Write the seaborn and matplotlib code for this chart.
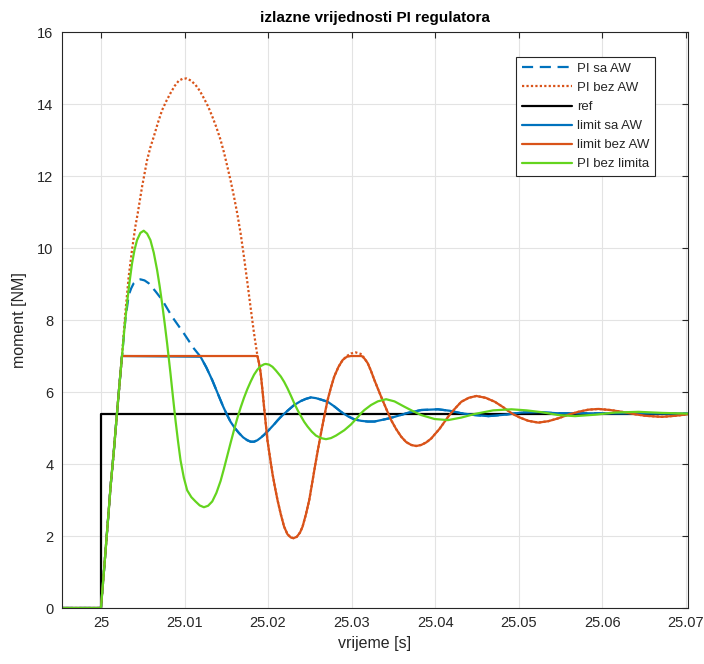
import numpy as np
import pandas as pd
import matplotlib
matplotlib.use("Agg")
import matplotlib.pyplot as plt
import seaborn as sns

# values (time [s], moment [NM])
ref_t = [24.9953, 25.0, 25.0, 25.0702]
ref_v = [0.0, 0.0, 5.4, 5.4]

# common start: all controller outputs rise together up to the limit of 7
rise_t = [24.9953, 25.0, 25.00042, 25.00084, 25.00118, 25.00152, 25.00192, 25.00222, 25.00252]
rise_v = [0.0, 0.0, 1.2, 2.44, 3.45, 4.30, 5.41, 6.22, 7.0]

# PI bez limita (green)
pbl_t = rise_t + [25.00282, 25.00312, 25.00342, 25.00372, 25.00402, 25.00432, 25.00472, 25.00512,
                  25.00552, 25.00592, 25.00632, 25.00672, 25.00702, 25.00732, 25.00762, 25.00792,
                  25.00832, 25.00862, 25.00892, 25.00922, 25.00952, 25.00992, 25.01032, 25.01082,
                  25.01132, 25.01182, 25.01232, 25.01282, 25.01332, 25.01382, 25.01432, 25.01472,
                  25.01512, 25.01552, 25.01592, 25.01632, 25.01672, 25.01712, 25.01752, 25.01792,
                  25.01832, 25.01872, 25.01912, 25.01952, 25.01973, 25.02013, 25.02053, 25.02093,
                  25.02153, 25.02193, 25.02233, 25.02273, 25.02313, 25.02353, 25.02393, 25.02433,
                  25.02473, 25.02523, 25.02573, 25.02633, 25.02693, 25.02753, 25.02813, 25.02873,
                  25.02913, 25.02993, 25.03073, 25.03113, 25.03153, 25.03233, 25.03313, 25.03413,
                  25.03513, 25.03633, 25.03733, 25.03833, 25.03993, 25.04154, 25.04313, 25.04473,
                  25.04693, 25.04913, 25.05094, 25.05274, 25.05474, 25.05674, 25.05914, 25.06154,
                  25.06434, 25.06714, 25.0702]
pbl_v = rise_v + [7.78, 8.46, 9.05, 9.57, 9.95, 10.22, 10.42, 10.48,
                  10.40, 10.22, 9.87, 9.39, 8.95, 8.46, 7.92, 7.35,
                  6.52, 5.86, 5.22, 4.64, 4.11, 3.62, 3.27, 3.08,
                  2.96, 2.85, 2.80, 2.84, 2.96, 3.20, 3.53, 3.87,
                  4.23, 4.59, 4.94, 5.27, 5.57, 5.84, 6.08, 6.29,
                  6.48, 6.62, 6.72, 6.77, 6.78, 6.76, 6.70, 6.60,
                  6.43, 6.28, 6.10, 5.90, 5.69, 5.50, 5.33, 5.17,
                  5.04, 4.90, 4.79, 4.72, 4.69, 4.72, 4.79, 4.88,
                  4.94, 5.10, 5.30, 5.41, 5.50, 5.64, 5.74, 5.80,
                  5.74, 5.59, 5.47, 5.36, 5.25, 5.22, 5.29, 5.39,
                  5.49, 5.52, 5.49, 5.44, 5.36, 5.33, 5.37, 5.43,
                  5.45, 5.42, 5.40]

# limit sa AW (blue solid), descent after leaving the limit
lsa_tail_t = [25.01192, 25.01262, 25.01332, 25.01412, 25.01462, 25.01502, 25.01552, 25.01602,
              25.01652, 25.01702, 25.01752, 25.01792, 25.01832, 25.01872, 25.01912, 25.01952,
              25.02012, 25.02072, 25.02113, 25.02153, 25.02233, 25.02313, 25.02393, 25.02453,
              25.02513, 25.02573, 25.02633, 25.02713, 25.02793, 25.02873, 25.02953, 25.03033,
              25.03113, 25.03193, 25.03273, 25.03353, 25.03433, 25.03513, 25.03673, 25.03833,
              25.04034, 25.04173, 25.04313, 25.04473, 25.04634, 25.04834, 25.05034, 25.05234,
              25.05474, 25.0702]
lsa_tail_v = [6.98, 6.68, 6.33, 5.88, 5.60, 5.40, 5.17, 5.0,
              4.86, 4.74, 4.66, 4.62, 4.62, 4.66, 4.73, 4.81,
              4.95, 5.10, 5.21, 5.31, 5.48, 5.64, 5.75, 5.81,
              5.85, 5.83, 5.79, 5.73, 5.60, 5.45, 5.33, 5.24,
              5.20, 5.18, 5.18, 5.22, 5.26, 5.31, 5.42, 5.50,
              5.52, 5.48, 5.41, 5.36, 5.33, 5.37, 5.43, 5.44,
              5.41, 5.40]
lsa_t = rise_t + lsa_tail_t
lsa_v = rise_v + lsa_tail_v

# PI sa AW (blue dashed)
psa_t = rise_t + [25.00292, 25.00332, 25.00362, 25.00392, 25.00432, 25.00472, 25.00522, 25.00572,
                  25.00652, 25.00732, 25.00852, 25.00922, 25.00992, 25.01052, 25.01112] + lsa_tail_t
psa_v = rise_v + [8.0, 8.69, 8.88, 9.02, 9.10, 9.13, 9.10, 9.02,
                  8.80, 8.56, 8.09, 7.86, 7.63, 7.42, 7.21] + lsa_tail_v

# limit bez AW (orange solid), after the first saturation
lba_tail_t = [25.01892, 25.01912, 25.01932, 25.01952, 25.01972, 25.01992, 25.02022, 25.02052,
              25.02083, 25.02113, 25.02153, 25.02192, 25.02232, 25.02272, 25.02305, 25.02345,
              25.02383, 25.02413, 25.02453, 25.02493, 25.02527, 25.02561, 25.02597, 25.02633,
              25.02673, 25.02713, 25.02753, 25.02792, 25.02843, 25.02893, 25.02943, 25.02993,
              25.03121, 25.03157, 25.03193, 25.03233, 25.03273, 25.03313, 25.03353, 25.03413,
              25.03473, 25.03533, 25.03593, 25.03653, 25.03713, 25.03773, 25.03833, 25.03893,
              25.03953, 25.04053, 25.04154, 25.04233, 25.04313, 25.04403, 25.04493, 25.04603,
              25.04713, 25.04813, 25.04913, 25.05014, 25.05114, 25.05234, 25.05354, 25.05474,
              25.05594, 25.05714, 25.05834, 25.05954, 25.06094, 25.06234, 25.06374, 25.06514,
              25.06714, 25.06874, 25.0702]
lba_tail_v = [6.80, 6.52, 6.07, 5.59, 5.13, 4.67, 4.20, 3.74,
              3.35, 3.0, 2.60, 2.26, 2.05, 1.96, 1.94, 1.98,
              2.10, 2.26, 2.60, 3.0, 3.46, 3.93, 4.40, 4.85,
              5.33, 5.78, 6.13, 6.43, 6.70, 6.89, 6.98, 7.0,
              7.0, 6.92, 6.80, 6.58, 6.33, 6.10, 5.87, 5.54,
              5.22, 4.97, 4.76, 4.61, 4.53, 4.50, 4.53, 4.60,
              4.71, 4.98, 5.31, 5.53, 5.73, 5.84, 5.89, 5.84,
              5.73, 5.58, 5.41, 5.29, 5.20, 5.15, 5.19, 5.27,
              5.37, 5.45, 5.51, 5.53, 5.50, 5.45, 5.39, 5.34,
              5.31, 5.34, 5.38]
lba_t = rise_t + [25.01873] + lba_tail_t
lba_v = rise_v + [7.0] + lba_tail_v

# PI bez AW (orange dotted)
pba_t = rise_t + [25.00292, 25.00332, 25.00372, 25.00412, 25.0044, 25.00492, 25.00552, 25.00592,
                  25.00632, 25.00682, 25.00732, 25.00782, 25.00832, 25.00882, 25.00932, 25.00978,
                  25.01024, 25.01078, 25.01132, 25.01182, 25.01232, 25.01283, 25.01333, 25.01382,
                  25.01432, 25.01473, 25.01513, 25.01552, 25.01592, 25.01632, 25.01672, 25.01712,
                  25.01752, 25.01792, 25.01832, 25.01873] \
    + lba_tail_t[:30] + [25.02943, 25.02993, 25.0305, 25.03121] + lba_tail_t[33:]
pba_v = rise_v + [8.2, 9.2, 9.95, 10.6, 10.96, 11.70, 12.44, 12.80,
                  13.09, 13.48, 13.83, 14.08, 14.30, 14.50, 14.65, 14.70,
                  14.71, 14.65, 14.53, 14.37, 14.16, 13.93, 13.65, 13.35,
                  13.0, 12.65, 12.26, 11.87, 11.43, 10.95, 10.40, 9.75,
                  9.05, 8.33, 7.63, 7.0] \
    + lba_tail_v[:30] + [7.0, 7.07, 7.1, 7.05] + lba_tail_v[33:]

x_ticks = [25.0, 25.01, 25.02, 25.03, 25.04, 25.05, 25.06, 25.07]
x_tick_labels = ["25", "25.01", "25.02", "25.03", "25.04", "25.05", "25.06", "25.07"]
y_ticks = [0, 2, 4, 6, 8, 10, 12, 14, 16]

sns.set_style("white")
plt.rcParams["font.family"] = ["Liberation Sans", "DejaVu Sans"]

blue = "#0072BD"
orange = "#D95319"
green = "#64D41E"

fig = plt.figure(figsize=(7.04, 6.64), dpi=100)
ax = fig.add_axes([0.0876, 0.0843, 0.889, 0.8675])

series = [
    ("PI sa AW", psa_t, psa_v, blue, (0, (5, 3))),
    ("PI bez AW", pba_t, pba_v, orange, (0, (1, 1))),
    ("ref", ref_t, ref_v, "black", "-"),
    ("limit sa AW", lsa_t, lsa_v, blue, "-"),
    ("limit bez AW", lba_t, lba_v, orange, "-"),
    ("PI bez limita", pbl_t, pbl_v, green, "-"),
]
for name, t, v, col, ls in series:
    sns.lineplot(x=t, y=v, ax=ax, color=col, linestyle=ls, linewidth=1.6,
                 estimator=None, sort=False, label=name)

ax.set_xlim(24.9953, 25.0702)
ax.set_ylim(0, 16)
ax.set_xticks(x_ticks)
ax.set_xticklabels(x_tick_labels)
ax.set_yticks(y_ticks)
ax.grid(True, color="#e3e3e3", linewidth=0.8)
ax.set_axisbelow(True)
ax.tick_params(direction="in", top=True, right=True, length=4, width=0.8,
               colors="#262626", labelsize=10.5, pad=6)
for sp in ax.spines.values():
    sp.set_color("#262626")
    sp.set_linewidth(0.8)

ax.set_title("izlazne vrijednosti PI regulatora", fontsize=11, fontweight="bold",
             color="black", pad=7)
ax.set_xlabel("vrijeme [s]", fontsize=11.5, color="#262626", labelpad=4)
ax.set_ylabel("moment [NM]", fontsize=11.5, color="#262626", labelpad=7)

leg = ax.legend(loc="upper right", bbox_to_anchor=(0.948, 0.957), borderaxespad=0,
                fontsize=9.5, handlelength=3.8, handletextpad=0.35, labelspacing=0.52,
                fancybox=False, framealpha=1, edgecolor="#262626", borderpad=0.45)
leg.get_frame().set_linewidth(0.8)

fig.savefig("out.png", dpi=100)
